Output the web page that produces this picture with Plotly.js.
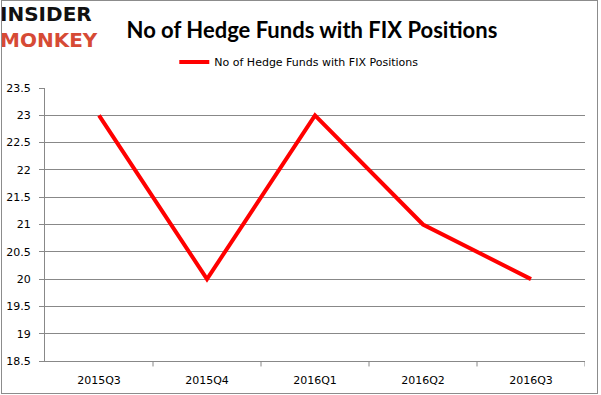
<!DOCTYPE html>
<html><head><meta charset="utf-8">
<script src="https://cdn.plot.ly/plotly-3.0.1.min.js"></script>
<style>body{margin:0;padding:0;background:#fff}#frame{position:absolute;left:1px;top:0px;width:595px;height:392px;border:1px solid #8c8c8c;pointer-events:none}</style>
</head><body>
<div id="chart" style="width:601px;height:395px;position:absolute;left:0;top:0"></div>
<div id="frame"></div>
<script>
const categories = ["2015Q3","2015Q4","2016Q1","2016Q2","2016Q3"];
const hedgeFunds = [23, 20, 23, 21, 20];
const seriesName = "No of Hedge Funds with FIX Positions";
const chartTitle = "No of Hedge Funds with FIX Positions";
const yTicks = [18.5,19,19.5,20,20.5,21,21.5,22,22.5,23,23.5];

const trace = {
  x: categories, y: hedgeFunds, type: 'scatter', mode: 'lines',
  name: seriesName, line: {color: '#ff0000', width: 4}
};
const layout = {
  width: 601, height: 395,
  margin: {l: 45, r: 16, t: 88, b: 34},
  paper_bgcolor: '#fff', plot_bgcolor: '#fff',
  font: {family: 'DejaVu Sans, sans-serif', size: 11, color: '#000'},
  title: {text: '<b>' + chartTitle + '</b>', x: 0.519, xanchor: 'center', y: 0.924, yanchor: 'middle',
          font: {family: 'Lato, sans-serif', size: 22, color: '#000'}},
  showlegend: true,
  legend: {orientation: 'h', x: 0.47, xanchor: 'center', y: 1.095, yanchor: 'middle',
           font: {family: 'DejaVu Sans, sans-serif', size: 11, color: '#000'}, itemwidth: 30},
  xaxis: {type: 'category', range: [-0.5, 4.5], showgrid: false, showline: true, linecolor: '#888', linewidth: 1,
          ticks: '', tickfont: {size: 11}, ticklabelstandoff: 9, zeroline: false, fixedrange: true},
  yaxis: {range: [18.5, 23.5], tickvals: yTicks, ticktext: yTicks.map(v => String(v)),
          showgrid: true, gridcolor: '#888', gridwidth: 1, showline: true, linecolor: '#888', linewidth: 1,
          ticks: 'outside', ticklen: 5, tickcolor: '#888', ticklabelstandoff: 6, zeroline: false, fixedrange: true},
  shapes: [0.5,1.5,2.5,3.5,4.5].map(v => ({type: 'line', xref: 'x', yref: 'paper', x0: v, x1: v, y0: 0, y1: -0.02,
          line: {color: '#888', width: 1}})),
  annotations: [
    {text: '<b>INSIDER</b><br><b><span style="color:#d64a35">MONKEY</span></b>', xref: 'paper', yref: 'paper',
     x: -0.087, y: 1.224, xanchor: 'left', yanchor: 'middle', align: 'left',
     showarrow: false, font: {family: 'DejaVu Sans, sans-serif', size: 20, color: '#111'}}
  ]
};
Plotly.newPlot('chart', [trace], layout, {displayModeBar: false, staticPlot: true});
</script>
</body></html>
